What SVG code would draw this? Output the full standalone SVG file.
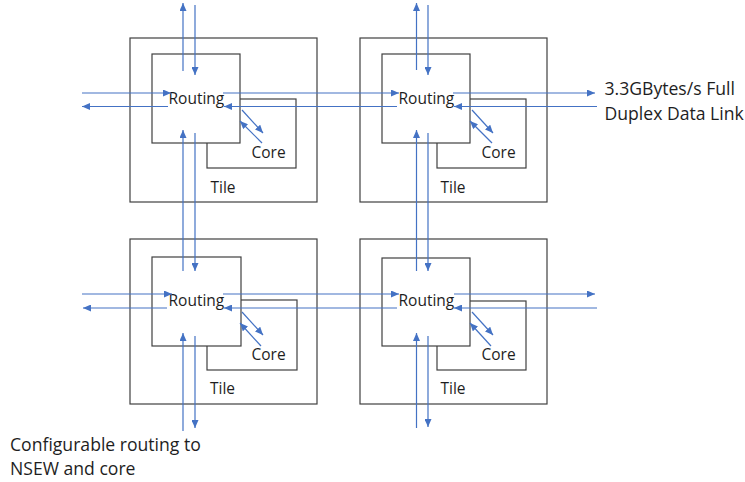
<svg xmlns="http://www.w3.org/2000/svg" width="745" height="482" viewBox="0 0 745 482">
  <style>
    .tile { fill: #ffffff; stroke: #404040; stroke-width: 1.2; }
    .core { fill: #ffffff; stroke: #404040; stroke-width: 1.2; }
    .route { fill: #ffffff; stroke: #404040; stroke-width: 1.2; }
    .lbl { font-family: "Open Sans", "Liberation Sans", sans-serif; font-size: 15.5px; fill: #1e1e1e; }
    .note { font-family: "Open Sans", "Liberation Sans", sans-serif; font-size: 17.6px; fill: #1e1e1e; }
    .link { stroke: #4472C4; stroke-width: 1.2; fill: none; marker-end: url(#ah); }
  </style>
  <defs>
    <marker id="ah" viewBox="0 0 8 7" refX="8" refY="3.5" markerWidth="8" markerHeight="7" markerUnits="userSpaceOnUse" orient="auto">
      <path d="M0,0 L8,3.5 L0,7 z" fill="#4472C4"/>
    </marker>
  </defs>

  <!-- tile: top left -->
  <g id="tile-nw">
    <rect class="tile" x="130" y="38" width="187" height="164"/>
    <rect class="core" x="207" y="99" width="89" height="69"/>
    <rect class="route" x="152" y="54" width="88" height="89"/>
    <text class="lbl" x="168.5" y="104">Routing</text>
    <text class="lbl" x="251.5" y="158">Core</text>
    <text class="lbl" x="210.5" y="193">Tile</text>
  </g>

  <!-- tile: top right -->
  <g id="tile-ne">
    <rect class="tile" x="360" y="38" width="187" height="164"/>
    <rect class="core" x="437" y="99" width="89" height="69"/>
    <rect class="route" x="382" y="54" width="88" height="89"/>
    <text class="lbl" x="398.5" y="104">Routing</text>
    <text class="lbl" x="481.5" y="158">Core</text>
    <text class="lbl" x="440.5" y="193">Tile</text>
  </g>

  <!-- tile: bottom left -->
  <g id="tile-sw">
    <rect class="tile" x="130" y="239" width="187" height="165"/>
    <rect class="core" x="207" y="300" width="90" height="70"/>
    <rect class="route" x="152" y="257" width="89" height="89"/>
    <text class="lbl" x="168.5" y="306">Routing</text>
    <text class="lbl" x="251.5" y="360">Core</text>
    <text class="lbl" x="210" y="394">Tile</text>
  </g>

  <!-- tile: bottom right -->
  <g id="tile-se">
    <rect class="tile" x="360" y="239" width="187" height="165"/>
    <rect class="core" x="437" y="301" width="89" height="69"/>
    <rect class="route" x="382" y="258" width="88" height="88"/>
    <text class="lbl" x="398.5" y="306">Routing</text>
    <text class="lbl" x="481.5" y="360">Core</text>
    <text class="lbl" x="440.5" y="394">Tile</text>
  </g>

  <!-- side notes -->
  <g id="note-link">
    <text class="note" x="604.5" y="94.5">3.3GBytes/s Full</text>
    <text class="note" x="604.5" y="119.5">Duplex Data Link</text>
  </g>
  <g id="note-routing">
    <text class="note" x="10" y="451">Configurable routing to</text>
    <text class="note" x="10" y="475">NSEW and core</text>
  </g>

  <!-- links between routers, edges and cores -->
  <g id="connectors">
    <!-- north edge -->
    <line class="link" x1="183" y1="71" x2="183" y2="3"/>
    <line class="link" x1="195" y1="5" x2="195" y2="75"/>
    <line class="link" x1="416.5" y1="70" x2="416.5" y2="3"/>
    <line class="link" x1="428" y1="5" x2="428" y2="75"/>

    <!-- between top and bottom rows -->
    <line class="link" x1="183" y1="271" x2="183" y2="130"/>
    <line class="link" x1="195" y1="133" x2="195" y2="271"/>
    <line class="link" x1="416.5" y1="271" x2="416.5" y2="130"/>
    <line class="link" x1="428" y1="133" x2="428" y2="271"/>

    <!-- south edge -->
    <line class="link" x1="183" y1="431" x2="183" y2="333"/>
    <line class="link" x1="195" y1="336" x2="195" y2="428"/>
    <line class="link" x1="416.5" y1="428" x2="416.5" y2="333"/>
    <line class="link" x1="428" y1="336" x2="428" y2="427"/>

    <!-- top row, west to east -->
    <line class="link" x1="82" y1="93" x2="171" y2="93"/>
    <line class="link" x1="168" y1="106.5" x2="82" y2="106.5"/>
    <line class="link" x1="223" y1="93" x2="399" y2="93"/>
    <line class="link" x1="397" y1="106.5" x2="224" y2="106.5"/>
    <line class="link" x1="453" y1="93" x2="595" y2="93"/>
    <line class="link" x1="597" y1="106.5" x2="454" y2="106.5"/>

    <!-- bottom row, west to east -->
    <line class="link" x1="82" y1="294" x2="172" y2="294"/>
    <line class="link" x1="167" y1="308" x2="83" y2="308"/>
    <line class="link" x1="223" y1="294" x2="399" y2="294"/>
    <line class="link" x1="397" y1="308" x2="224" y2="308"/>
    <line class="link" x1="454" y1="294" x2="595" y2="294"/>
    <line class="link" x1="597" y1="308" x2="454" y2="308"/>

    <!-- router to core -->
    <line class="link" x1="242" y1="110" x2="263" y2="133"/>
    <line class="link" x1="262" y1="143" x2="240" y2="121"/>
    <line class="link" x1="472" y1="110" x2="493" y2="133"/>
    <line class="link" x1="492" y1="143" x2="470" y2="121"/>
    <line class="link" x1="242" y1="312" x2="263" y2="335"/>
    <line class="link" x1="261" y1="346" x2="240" y2="323"/>
    <line class="link" x1="472" y1="312" x2="493" y2="335"/>
    <line class="link" x1="491" y1="346" x2="470" y2="323"/>
  </g>
</svg>
